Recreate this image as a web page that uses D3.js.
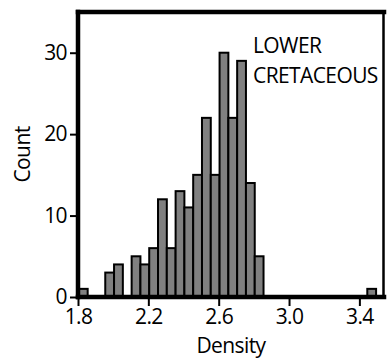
<!DOCTYPE html>
<html>
<head>
<meta charset="utf-8">
<script src="https://cdn.jsdelivr.net/npm/d3@7"></script>
<style>
  body { margin: 0; background: #fff; }
  svg { display: block; }
  text { font-family: "Open Sans", sans-serif; fill: #000; letter-spacing: -0.6px; }
</style>
</head>
<body>
<svg id="chart" width="387" height="359"></svg>
<script>
// histogram bins (lower edge) and counts
const binLow = [1.805, 1.955, 2.005, 2.105, 2.155, 2.205, 2.255, 2.305, 2.355, 2.405,
                2.455, 2.505, 2.555, 2.605, 2.655, 2.705, 2.755, 2.805, 3.445];
const counts = [1, 3, 4, 5, 4, 6, 12, 6, 13, 11, 15, 22, 15, 30, 22, 29, 14, 5, 1];
const binWidth = 0.05;
const xTicks = [1.8, 2.2, 2.6, 3.0, 3.4];
const yTicks = [0, 10, 20, 30];
const labelLines = ['LOWER', 'CRETACEOUS'];

const data = binLow.map((d, i) => ({x0: d, x1: d + binWidth, n: counts[i]}));

const svg = d3.select('#chart');
const width = +svg.attr('width');
const height = +svg.attr('height');
const margin = {t: 12, r: 3, b: 62, l: 78};

const x = d3.scaleLinear()
    .domain([1.8, 3.54])
    .range([margin.l, width - margin.r]);
const y = d3.scaleLinear()
    .domain([0, 35])
    .range([height - margin.b, margin.t]);

// bars
svg.append('g')
    .selectAll('rect')
    .data(data)
    .enter()
    .append('rect')
    .attr('x', d => x(d.x0))
    .attr('width', d => x(d.x1) - x(d.x0))
    .attr('y', d => y(d.n))
    .attr('height', d => y(0) - y(d.n))
    .style('fill', '#808080')
    .style('stroke', '#000')
    .style('stroke-width', 2);

// axes
const xAxis = svg.append('g')
    .attr('transform', `translate(0,${y(0)})`)
    .call(d3.axisBottom(x).tickValues(xTicks).tickFormat(d3.format('.1f')).tickSize(9).tickPadding(3));
const yAxis = svg.append('g')
    .attr('transform', `translate(${x(1.8)},0)`)
    .call(d3.axisLeft(y).tickValues(yTicks).tickSize(8).tickPadding(3));

[xAxis, yAxis].forEach(g => {
    g.select('.domain').remove();
    g.selectAll('line').style('stroke', '#000').style('stroke-width', 2);
    g.selectAll('text')
        .style('font-size', '21px')
        .style('font-family', '"Open Sans", sans-serif')
        .style('fill', '#000');
});

// frame
const x0 = x.range()[0], x1 = x.range()[1];
const y0 = y.range()[0], y1 = y.range()[1];
const frame = svg.append('g').style('stroke', '#000').style('stroke-linecap', 'square');
frame.append('line').attr('x1', x0).attr('x2', x1).attr('y1', y1).attr('y2', y1).style('stroke-width', 4.5);
frame.append('line').attr('x1', x0).attr('x2', x1).attr('y1', y0).attr('y2', y0).style('stroke-width', 4.5);
frame.append('line').attr('x1', x0).attr('x2', x0).attr('y1', y1).attr('y2', y0).style('stroke-width', 4.5);
frame.append('line').attr('x1', x1 - 0.5).attr('x2', x1 - 0.5).attr('y1', y1).attr('y2', y0).style('stroke-width', 2.5);

// axis titles
svg.append('text')
    .attr('x', (x0 + x1) / 2)
    .attr('y', 353)
    .attr('text-anchor', 'middle')
    .style('font-size', '21px')
    .text('Density');
svg.append('text')
    .attr('transform', `translate(30,${(y0 + y1) / 2}) rotate(-90)`)
    .attr('text-anchor', 'middle')
    .style('font-size', '21px')
    .text('Count');

// annotation
svg.append('g')
    .selectAll('text')
    .data(labelLines)
    .enter()
    .append('text')
    .attr('x', 253)
    .attr('y', (d, i) => 53 + i * 30)
    .style('font-size', '21px')
    .text(d => d);
</script>
</body>
</html>
